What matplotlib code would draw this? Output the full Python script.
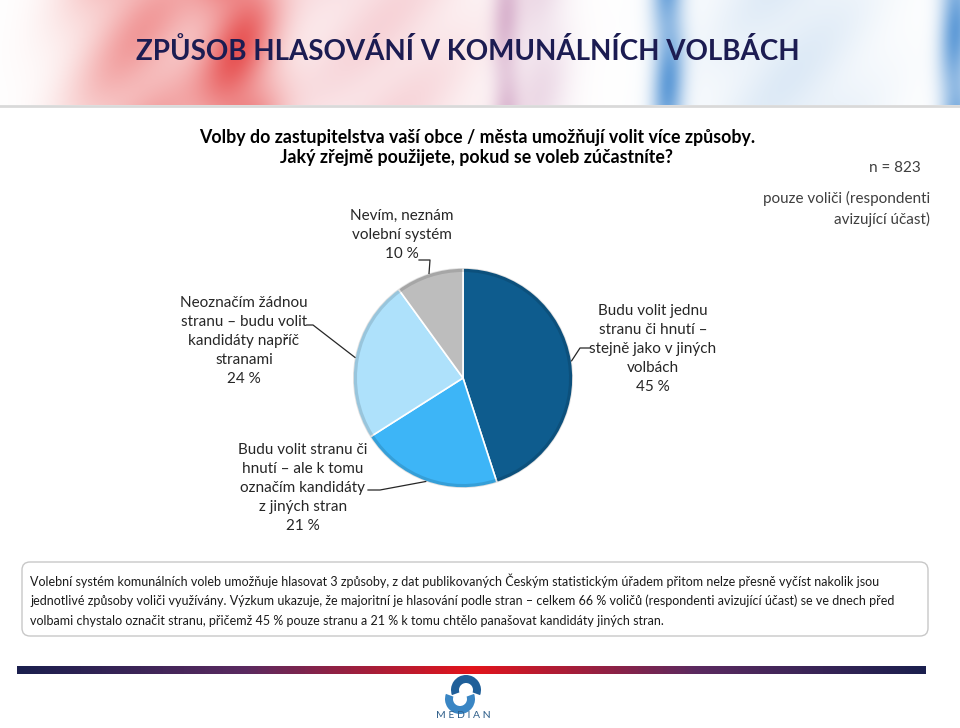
import numpy as np
import matplotlib
matplotlib.use("Agg")
import matplotlib.pyplot as plt
from matplotlib.patches import FancyBboxPatch, Wedge
from matplotlib.colors import LinearSegmentedColormap

plt.rcParams["font.family"] = ["Lato", "DejaVu Sans"]

# data
labels = [
    "Budu volit jednu\nstranu či hnutí –\nstejně jako v jiných\nvolbách\n45 %",
    "Budu volit stranu či\nhnutí – ale k tomu\noznačím kandidáty\nz jiných stran\n21 %",
    "Neoznačím žádnou\nstranu – budu volit\nkandidáty napříč\nstranami\n24 %",
    "Nevím, neznám\nvolební systém\n10 %",
]
values = [45, 21, 24, 10]
colors = ["#0E5C8E", "#3DB5F7", "#AEE1FB", "#BDBDBD"]

title = "ZPŮSOB HLASOVÁNÍ V KOMUNÁLNÍCH VOLBÁCH"
question = ["Volby do zastupitelstva vaší obce / města umožňují volit více způsoby.",
            "Jaký zřejmě použijete, pokud se voleb zúčastníte?"]
n_text = "n = 823"
base_text = "pouze voliči (respondenti\navizující účast)"
note = ["Volební systém komunálních voleb umožňuje hlasovat 3 způsoby, z dat publikovaných Českým statistickým úřadem přitom nelze přesně vyčíst nakolik jsou",
        "jednotlivé způsoby voliči využívány. Výzkum ukazuje, že majoritní je hlasování podle stran – celkem 66 % voličů (respondenti avizující účast) se ve dnech před",
        "volbami chystalo označit stranu, přičemž 45 % pouze stranu a 21 % k tomu chtělo panašovat kandidáty jiných stran."]

W, H = 960, 728
fig = plt.figure(figsize=(W / 100, H / 100), dpi=100)
ax = fig.add_axes([0, 0, 1, 1])

# header watercolor band
xs = np.arange(W)
def g(c, s, a):
    return a * np.exp(-((xs - c) / s) ** 2)
layers = [
    ((0.93, 0.62, 0.66), g(380, 110, 0.45)),
    ((0.90, 0.28, 0.28), g(140, 70, 0.55) + g(240, 40, 0.85)),
    ((0.66, 0.36, 0.60), g(505, 14, 0.35) + g(540, 30, 0.2)),
    ((0.62, 0.76, 0.90), g(790, 90, 0.35)),
    ((0.28, 0.55, 0.82), g(668, 16, 0.85) + g(955, 16, 0.85)),
]
img = np.ones((105, W, 3))
yy = np.linspace(0, 1, 105)[:, None]
for col, a in layers:
    a = np.clip(a, 0, 1)[None, :] * (0.7 + 0.3 * np.sin(yy * 3.0 + xs[None, :] / 37.0) ** 2)
    for k in range(3):
        img[:, :, k] = img[:, :, k] * (1 - a) + col[k] * a
ax.imshow(img, extent=(0, W, 105, 0), aspect="auto", zorder=0)
ax.plot([0, W], [106, 106], color="#D9D9D9", lw=2, zorder=1)

ax.text(468, 52, title, ha="center", va="center", fontsize=20, fontweight="bold", color="#1C1C52")
ax.text(477, 138, question[0], ha="center", va="center", fontsize=12.8, fontweight="bold", color="black")
ax.text(477, 158, question[1], ha="center", va="center", fontsize=12.8, fontweight="bold", color="black")
ax.text(895, 168, n_text, ha="center", va="center", fontsize=11, color="#3F3F3F")
ax.text(930, 209, base_text, ha="right", va="center", fontsize=11, color="#3F3F3F", linespacing=1.45)

# pie
cx, cy, r = 463, 378, 110
wedges, _ = ax.pie(values, colors=colors, center=(cx, cy), radius=r, startangle=-90,
                   counterclock=True, frame=True,
                   wedgeprops=dict(edgecolor="white", linewidth=1.2))
# soft bevel on each slice
for w in wedges:
    ax.add_patch(Wedge(w.center, w.r, w.theta1, w.theta2, width=4, facecolor="black",
                       alpha=0.12, edgecolor="none"))

# labels and leader lines
theta = -90 + np.cumsum([0] + values[:-1]) * 3.6 + np.array(values) * 1.8
tx = [653, 303, 244, 402]
ty = [349, 488, 341, 235]
bends = [[(580, 348), (590, 348)], [(380, 490), (368, 490)],
         [(313, 325), (307, 325)], [(430, 260), (419, 260)]]
for i, lab in enumerate(labels):
    ax.text(tx[i], ty[i], lab, ha="center", va="center", fontsize=11, color="#262626",
            linespacing=1.45)
    ex = cx + r * np.cos(np.radians(theta[i]))
    ey = cy + r * np.sin(np.radians(theta[i]))
    px = [ex] + [p[0] for p in bends[i]]
    py = [ey] + [p[1] for p in bends[i]]
    ax.plot(px, py, color="#262626", lw=0.9)

# note box
ax.add_patch(FancyBboxPatch((22, 562), 906, 74, boxstyle="round,pad=0,rounding_size=8",
                            facecolor="white", edgecolor="#C8C8C8", lw=1))
for i, line in enumerate(note):
    ax.text(30, 581 + 20 * i, line, ha="left", va="center", fontsize=9, color="#1A1A1A")

# bottom gradient line
cmap = LinearSegmentedColormap.from_list("bar", ["#1B1F4E", "#5A2A60", "#E3141B", "#5A2A60", "#1B1F4E"])
ax.imshow(np.linspace(0, 1, 256)[None, :], cmap=cmap, extent=(17, 926, 674, 666), aspect="auto")

# logo
ax.add_patch(Wedge((466, 690), 15, 160, 20, width=8, facecolor="#1F5F99", edgecolor="none"))
ax.add_patch(Wedge((460, 699), 15, 340, 200, width=8, facecolor="#3A86C4", edgecolor="none"))
ax.text(463, 716, "M E D I A N", ha="center", va="center", fontsize=7.5, color="#2F5F8A")

ax.set_xlim(0, W)
ax.set_ylim(H, 0)
ax.set_aspect("auto")
ax.axis("off")

fig.savefig("out.png", dpi=100)
